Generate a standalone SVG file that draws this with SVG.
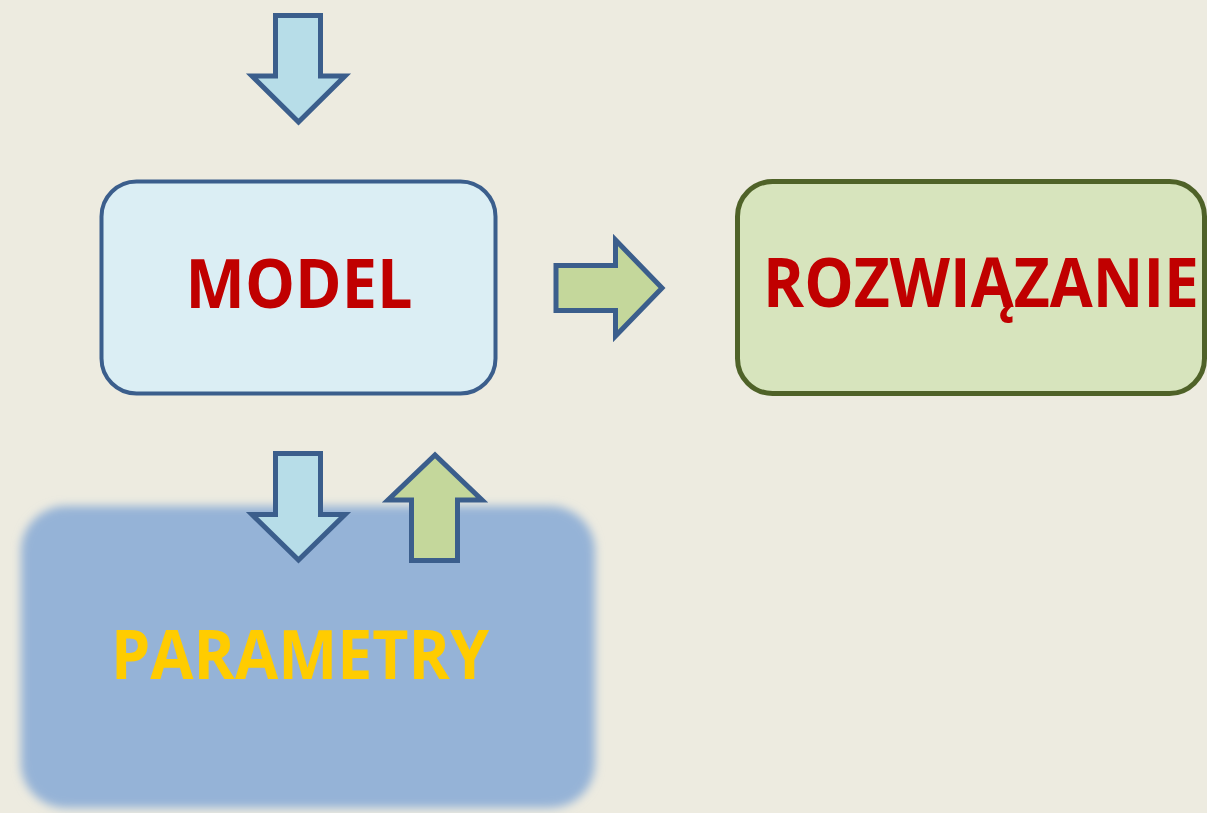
<svg xmlns="http://www.w3.org/2000/svg" width="1207" height="813" viewBox="0 0 1207 813">
<style>
.arrow{stroke:#3b5e8c;stroke-width:5;stroke-linejoin:miter}
.blue{fill:#b7dde8}
.green{fill:#c4d79b}
.lbl{font-family:"Open Sans","Liberation Sans",sans-serif;font-weight:bold;text-anchor:middle;font-size:68px}
</style>
<defs>
<filter id="soft" x="-10%" y="-10%" width="120%" height="120%"><feGaussianBlur stdDeviation="5"/></filter>
</defs>
<rect width="1207" height="813" fill="#edebe0"/>
<g id="parametry">
<rect x="21" y="506" width="574" height="302" rx="45" fill="#95b3d7" filter="url(#soft)"/>
<text class="lbl" x="300" y="679" fill="#ffcc00" textLength="378" lengthAdjust="spacingAndGlyphs">PARAMETRY</text>
</g>
<g id="model">
<rect x="101.5" y="181.5" width="394" height="212" rx="35" fill="#dbeef4" stroke="#3b5e8c" stroke-width="4"/>
<text class="lbl" x="299" y="308" fill="#c00000" textLength="227" lengthAdjust="spacingAndGlyphs">MODEL</text>
</g>
<g id="rozwiazanie">
<rect x="737.5" y="181.5" width="467" height="212" rx="35" fill="#d7e4bd" stroke="#4f6228" stroke-width="5"/>
<text class="lbl" x="981" y="307" fill="#c00000" textLength="436" lengthAdjust="spacingAndGlyphs">ROZWIĄZANIE</text>
</g>
<g id="connectors">
<polygon class="arrow blue" points="275.5,15.5 320.5,15.5 320.5,76 345,76 298.5,122 252,76 275.5,76"/>
<polygon class="arrow green" points="556,265.5 615.5,265.5 615.5,240 662,288 615.5,336 615.5,310.5 556,310.5"/>
<polygon class="arrow blue" points="275.5,453.5 320.5,453.5 320.5,514.5 345,514.5 298.5,560 252,514.5 275.5,514.5"/>
<polygon class="arrow green" points="411.5,560.5 457.5,560.5 457.5,500 482,500 435,455 388,500 411.5,500"/>
</g>
</svg>
